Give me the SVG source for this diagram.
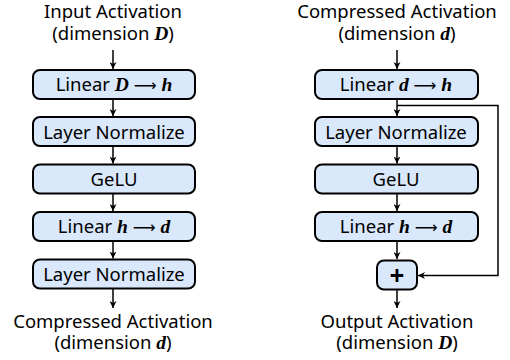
<svg xmlns="http://www.w3.org/2000/svg" width="510" height="360" viewBox="0 0 510 360">
<defs>
<style>
.box{fill:#dae8fc;stroke:#000;stroke-width:2}
.t{font-family:"Noto Sans","Open Sans",sans-serif;font-size:18.5px;fill:#000;text-anchor:middle}
.lbl{font-family:"Noto Sans","Open Sans",sans-serif;font-size:18.5px;fill:#000;text-anchor:middle}
.m{font-family:"Liberation Serif","DejaVu Serif",serif;font-style:italic;font-weight:bold;font-size:19.5px}
.ar{font-family:"DejaVu Sans",sans-serif;font-size:16px}
.c{fill:none;stroke:#000;stroke-width:1.5}
</style>
<marker id="ah" viewBox="0 0 10 10" refX="10" refY="5" markerWidth="7" markerHeight="7" markerUnits="userSpaceOnUse" orient="auto">
<path d="M0,0 L10,5 L0,10 L3,5 z" fill="#000"/>
</marker>
</defs>
<rect width="510" height="360" fill="#fff"/>
<g id="connectors">
<path class="c" d="M113,50 V69" marker-end="url(#ah)"/>
<path class="c" d="M113,99 V116" marker-end="url(#ah)"/>
<path class="c" d="M113,146 V163.5" marker-end="url(#ah)"/>
<path class="c" d="M113,194 V211" marker-end="url(#ah)"/>
<path class="c" d="M113,242 V258.5" marker-end="url(#ah)"/>
<path class="c" d="M113,289 V308" marker-end="url(#ah)"/>
<path class="c" d="M397,50 V69" marker-end="url(#ah)"/>
<path class="c" d="M397,99 V116" marker-end="url(#ah)"/>
<path class="c" d="M397,146 V163.5" marker-end="url(#ah)"/>
<path class="c" d="M397,194 V211" marker-end="url(#ah)"/>
<path class="c" d="M397,242 V259" marker-end="url(#ah)"/>
<path class="c" d="M397,290 V308" marker-end="url(#ah)"/>
<path class="c" d="M397,105.5 H498 V275.5 H418" marker-end="url(#ah)"/>
</g>
<g id="in-left"><text class="lbl" x="113" y="18">Input Activation</text><text class="lbl" x="113" y="40">(dimension <tspan class="m">D</tspan>)</text></g>
<g id="l1"><rect class="box" x="33" y="70" width="162" height="29" rx="7"/><text class="t" x="114" y="91">Linear <tspan class="m">D</tspan> <tspan class="ar">⟶</tspan> <tspan class="m">h</tspan></text></g>
<g id="l2"><rect class="box" x="33" y="117" width="162" height="29" rx="7"/><text class="t" x="114" y="138.5">Layer Normalize</text></g>
<g id="l3"><rect class="box" x="33" y="164.5" width="162" height="29" rx="7"/><text class="t" x="114" y="186">GeLU</text></g>
<g id="l4"><rect class="box" x="33" y="212" width="162" height="29" rx="7"/><text class="t" x="114" y="233">Linear <tspan class="m">h</tspan> <tspan class="ar">⟶</tspan> <tspan class="m">d</tspan></text></g>
<g id="l5"><rect class="box" x="33" y="259.5" width="162" height="29" rx="7"/><text class="t" x="114" y="281">Layer Normalize</text></g>
<g id="out-left"><text class="lbl" x="113" y="328">Compressed Activation</text><text class="lbl" x="113" y="349">(dimension <tspan class="m">d</tspan>)</text></g>
<g id="in-right"><text class="lbl" x="397" y="18">Compressed Activation</text><text class="lbl" x="397" y="40">(dimension <tspan class="m">d</tspan>)</text></g>
<g id="r1"><rect class="box" x="315" y="70" width="163" height="29" rx="7"/><text class="t" x="396" y="91">Linear <tspan class="m">d</tspan> <tspan class="ar">⟶</tspan> <tspan class="m">h</tspan></text></g>
<g id="r2"><rect class="box" x="315" y="117" width="163" height="29" rx="7"/><text class="t" x="396" y="138.5">Layer Normalize</text></g>
<g id="r3"><rect class="box" x="315" y="164.5" width="163" height="29" rx="7"/><text class="t" x="396" y="186">GeLU</text></g>
<g id="r4"><rect class="box" x="315" y="212" width="163" height="29" rx="7"/><text class="t" x="396" y="233">Linear <tspan class="m">h</tspan> <tspan class="ar">⟶</tspan> <tspan class="m">d</tspan></text></g>
<g id="plus"><rect class="box" x="377" y="260.5" width="40" height="29" rx="7"/><text class="t" x="397" y="285" style="font-weight:bold;font-size:26px">+</text></g>
<g id="out-right"><text class="lbl" x="397" y="328">Output Activation</text><text class="lbl" x="397" y="349">(dimension <tspan class="m">D</tspan>)</text></g>
</svg>
